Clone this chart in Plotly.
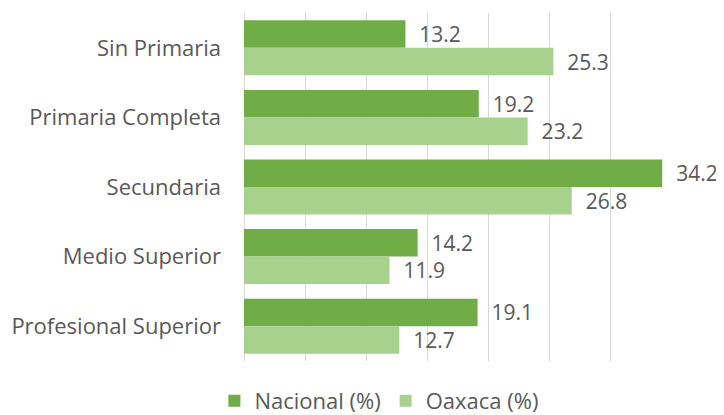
import plotly.graph_objects as go

categorias = ["Sin Primaria", "Primaria Completa", "Secundaria", "Medio Superior", "Profesional Superior"]
nacional = [13.2, 19.2, 34.2, 14.2, 19.1]
oaxaca = [25.3, 23.2, 26.8, 11.9, 12.7]
series_names = ["Nacional (%)", "Oaxaca (%)"]

FONT = "Open Sans"
GREY = "#595959"
FS = 22
LFS = 21

fig = go.Figure()
fig.add_trace(go.Bar(
    y=categorias, x=nacional, orientation="h", name=series_names[0],
    marker=dict(color="#70AD47", line=dict(width=0)),
    texttemplate="\u00a0\u00a0%{x:.1f}", textposition="outside",
    textfont=dict(family=FONT, size=LFS, color=GREY),
    cliponaxis=False, constraintext="none",
))
fig.add_trace(go.Bar(
    y=categorias, x=oaxaca, orientation="h", name=series_names[1],
    marker=dict(color="#A9D18E", line=dict(width=0)),
    texttemplate="\u00a0\u00a0%{x:.1f}", textposition="outside",
    textfont=dict(family=FONT, size=LFS, color=GREY),
    cliponaxis=False, constraintext="none",
))

# The page body adds an 8px margin, so the figure is sized/offset to fit the 724x415 window.
fig.update_layout(
    width=716, height=407,
    margin=dict(l=236, r=52, t=5, b=54, autoexpand=False),
    paper_bgcolor="white", plot_bgcolor="white",
    barmode="group", bargap=0.21, bargroupgap=0,
    font=dict(family=FONT, color=GREY, size=FS),
    xaxis=dict(range=[0, 35], dtick=5, showticklabels=False, showgrid=True,
               gridcolor="#D9D9D9", gridwidth=1, zeroline=True, zerolinecolor="#D9D9D9",
               zerolinewidth=1, showline=False, fixedrange=True, automargin=False),
    yaxis=dict(autorange="reversed", showgrid=False, showline=False, ticks="",
               ticklabelstandoff=22, automargin=False,
               tickfont=dict(family=FONT, size=FS, color=GREY)),
    legend=dict(orientation="h", xref="container", yref="container",
                x=0.518, xanchor="center", y=0.0344, yanchor="middle",
                font=dict(family=FONT, size=FS, color=GREY), itemwidth=30),
    showlegend=True,
)

fig.write_html("out.html")
